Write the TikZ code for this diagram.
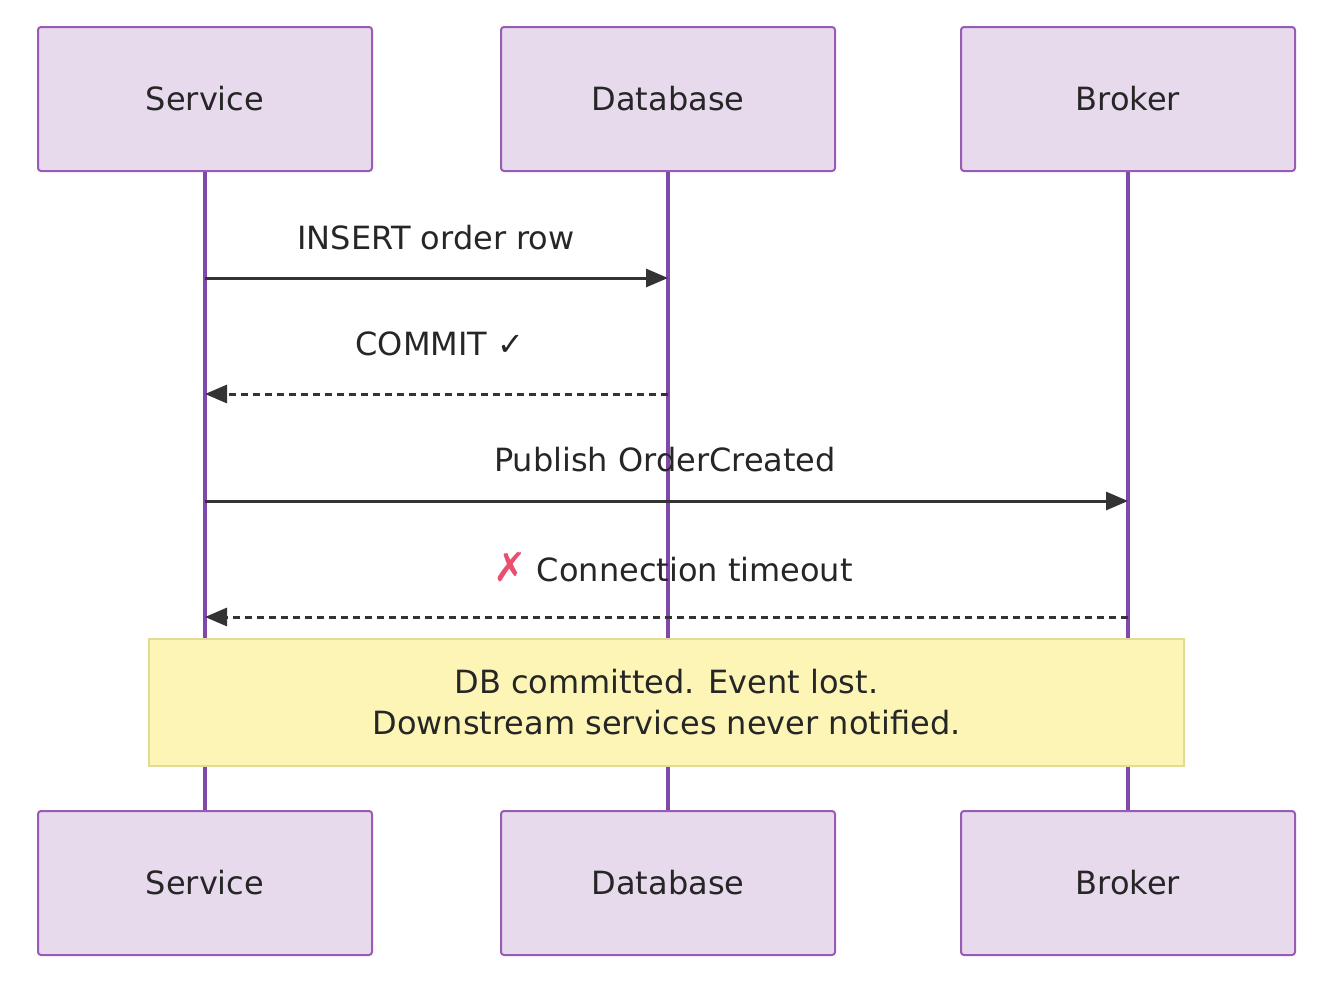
\documentclass[tikz,border=0pt]{standalone}
\usepackage{fontspec}
\setmainfont{DejaVu Sans}
\usetikzlibrary{arrows.meta}
\definecolor{actfill}{HTML}{E6DAEC}
\definecolor{actline}{HTML}{9A5BB4}
\definecolor{lifeline}{HTML}{8048AA}
\definecolor{msgline}{HTML}{333333}
\definecolor{notefill}{HTML}{FCF5B6}
\definecolor{noteline}{HTML}{E2DC92}
\definecolor{crosscol}{HTML}{E8506E}
\tikzset{
  actor/.style={draw=actline, fill=actfill, line width=2pt, rounded corners=3pt,
    minimum width=334pt, minimum height=144pt, font=\fontsize{32}{38}\selectfont, text=black!85},
  life/.style={draw=lifeline, line width=3.5pt},
  msg/.style={draw=msgline, line width=3pt, -{Triangle[length=22pt,width=18pt]}},
  reply/.style={msg, dash pattern=on 7pt off 5pt},
  lbl/.style={font=\fontsize{32}{41}\selectfont, text=black!85},
}
\begin{document}
\begin{tikzpicture}[x=1pt, y=-1pt]
  \useasboundingbox (0, 0) rectangle (1330, 985);

  % actors
  \node[actor] (svcT) at (205, 99) {Service};
  \node[actor] (dbT) at (668, 99) {Database};
  \node[actor] (brkT) at (1128, 99) {Broker};
  \node[actor] (svcB) at (205, 883) {Service};
  \node[actor] (dbB) at (668, 883) {Database};
  \node[actor] (brkB) at (1128, 883) {Broker};

  % lifelines
  \draw[life] (svcT.south) -- (svcB.north);
  \draw[life] (dbT.south) -- (dbB.north);
  \draw[life] (brkT.south) -- (brkB.north);

  % messages
  \coordinate (s1) at (205, 278);
  \coordinate (d1) at (668, 278);
  \coordinate (d2) at (668, 394);
  \coordinate (s2) at (205, 394);
  \coordinate (s3) at (205, 501);
  \coordinate (b3) at (1128, 501);
  \coordinate (b4) at (1128, 617);
  \coordinate (s4) at (205, 617);
  \draw[msg] (s1) -- (d1);
  \node[lbl] (m1) at (436, 238) {INSERT order row};
  \draw[reply] (d2) -- (s2);
  \node[lbl] (m2) at (440, 344) {COMMIT ✓};
  \draw[msg] (s3) -- (b3);
  \node[lbl] (m3) at (665, 460) {Publish OrderCreated};
  \draw[reply] (b4) -- (s4);
  \node[lbl] (m4) at (673, 567) {\textcolor{crosscol}{\fontsize{40}{40}\selectfont\textbf{✗}} Connection timeout};

  % note
  \node[draw=noteline, fill=notefill, line width=2pt, minimum width=1035pt,
    minimum height=127pt, align=center, lbl] (note) at (666.5, 702.5)
    {DB committed. Event lost.\\Downstream services never notified.};
\end{tikzpicture}
\end{document}
